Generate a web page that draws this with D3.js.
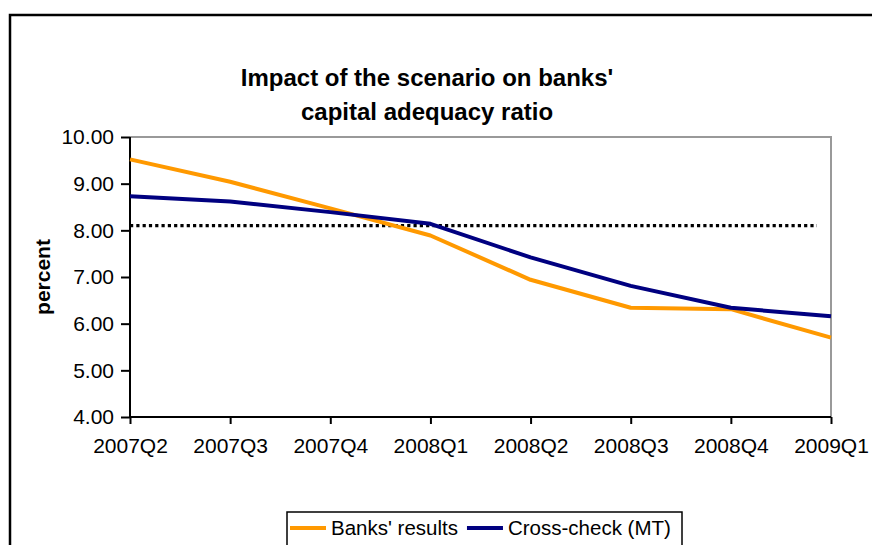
<!DOCTYPE html>
<html>
<head>
<meta charset="utf-8">
<script src="https://cdn.jsdelivr.net/npm/d3@7"></script>
<style>
  html, body { margin: 0; padding: 0; background: #fff; }
  svg { display: block; font-family: "Liberation Sans", Arial, sans-serif; }
</style>
</head>
<body>
<div id="chart"></div>
<script>
// ── Data ──────────────────────────────────────────────
const quarters = ['2007Q2', '2007Q3', '2007Q4', '2008Q1', '2008Q2', '2008Q3', '2008Q4', '2009Q1'];
const banksResults = [9.52, 9.04, 8.47, 7.89, 6.94, 6.34, 6.31, 5.70];
const crossCheck   = [8.73, 8.62, 8.39, 8.14, 7.42, 6.81, 6.34, 6.16];
const yTicks = [4, 5, 6, 7, 8, 9, 10];
const minimumRatio = 8.1;          // dotted reference line
const minimumSpan = [0, 6.86];     // in quarter-index units

const W = 872, H = 545;
const margin = { top: 137, right: 41, bottom: 128, left: 130 };
const innerW = W - margin.left - margin.right;
const innerH = H - margin.top - margin.bottom;

const svg = d3.select('#chart').append('svg')
  .attr('width', W).attr('height', H)
  .attr('viewBox', `0 0 ${W} ${H}`);

// outer chart frame (runs off the right and bottom edge)
svg.append('rect')
  .attr('x', 10).attr('y', 15)
  .attr('width', 900).attr('height', 600)
  .attr('fill', '#fff').attr('stroke', '#000').attr('stroke-width', 2.5);

// title
const title = svg.append('text')
  .attr('x', 427).attr('text-anchor', 'middle')
  .attr('font-size', 24).attr('font-weight', 'bold').attr('fill', '#000');
title.append('tspan').attr('x', 427).attr('y', 86).text("Impact of the scenario on banks'");
title.append('tspan').attr('x', 427).attr('y', 120).text('capital adequacy ratio');

const g = svg.append('g').attr('transform', `translate(${margin.left},${margin.top})`);

const x = d3.scalePoint().domain(quarters).range([0, innerW]);
const xi = d3.scaleLinear().domain([0, quarters.length - 1]).range([0, innerW]);
const y = d3.scaleLinear().domain([4, 10]).range([innerH, 0]);

// plot-area border (grey top/right)
g.append('path')
  .attr('d', `M0,0H${innerW}V${innerH}`)
  .attr('fill', 'none').attr('stroke', '#999').attr('stroke-width', 2);

// axes
const yAxis = g.append('g')
  .call(d3.axisLeft(y).tickValues(yTicks).tickFormat(d3.format('.2f')).tickSize(9).tickPadding(7));
const xAxis = g.append('g')
  .attr('transform', `translate(0,${innerH})`)
  .call(d3.axisBottom(x).tickSize(7).tickPadding(14));

[yAxis, xAxis].forEach(a => {
  a.selectAll('path, line').attr('stroke', '#000').attr('stroke-width', 2);
  a.selectAll('.domain').attr('d', a === yAxis ? `M0,${innerH}V0` : `M0,0H${innerW}`);
  a.selectAll('text').attr('font-size', 21).attr('fill', '#000')
    .attr('font-family', '"Liberation Sans", Arial, sans-serif');
});

// y-axis label
svg.append('text')
  .attr('transform', `translate(50,${margin.top + innerH / 2}) rotate(-90)`)
  .attr('text-anchor', 'middle')
  .attr('font-size', 21).attr('font-weight', 'bold').attr('fill', '#000')
  .text('percent');

// dotted minimum line
g.append('line')
  .attr('x1', xi(minimumSpan[0])).attr('x2', xi(minimumSpan[1]))
  .attr('y1', y(minimumRatio)).attr('y2', y(minimumRatio))
  .attr('stroke', '#000').attr('stroke-width', 3.2)
  .attr('stroke-dasharray', '3.2,3.1');

// series
const lineGen = d3.line().x((d, i) => x(quarters[i])).y(d => y(d));
const series = [
  { name: "Banks' results", values: banksResults, color: '#FF9900' },
  { name: 'Cross-check (MT)', values: crossCheck, color: '#000080' },
];
series.forEach(s => {
  g.append('path').datum(s.values)
    .attr('fill', 'none').attr('stroke', s.color)
    .attr('stroke-width', 4).attr('stroke-linejoin', 'round')
    .attr('d', lineGen);
});

// legend
const legend = svg.append('g').attr('transform', 'translate(287,512)');
legend.append('rect')
  .attr('width', 395).attr('height', 60)
  .attr('fill', '#fff').attr('stroke', '#000').attr('stroke-width', 1.5);
let lx = 3;
series.forEach(s => {
  legend.append('line')
    .attr('x1', lx).attr('x2', lx + 36).attr('y1', 16).attr('y2', 16)
    .attr('stroke', s.color).attr('stroke-width', 4);
  const t = legend.append('text')
    .attr('x', lx + 41).attr('y', 23)
    .attr('font-size', 20.5).attr('fill', '#000')
    .text(s.name);
  lx += 41 + t.node().getComputedTextLength() + 9;
});
</script>
</body>
</html>
